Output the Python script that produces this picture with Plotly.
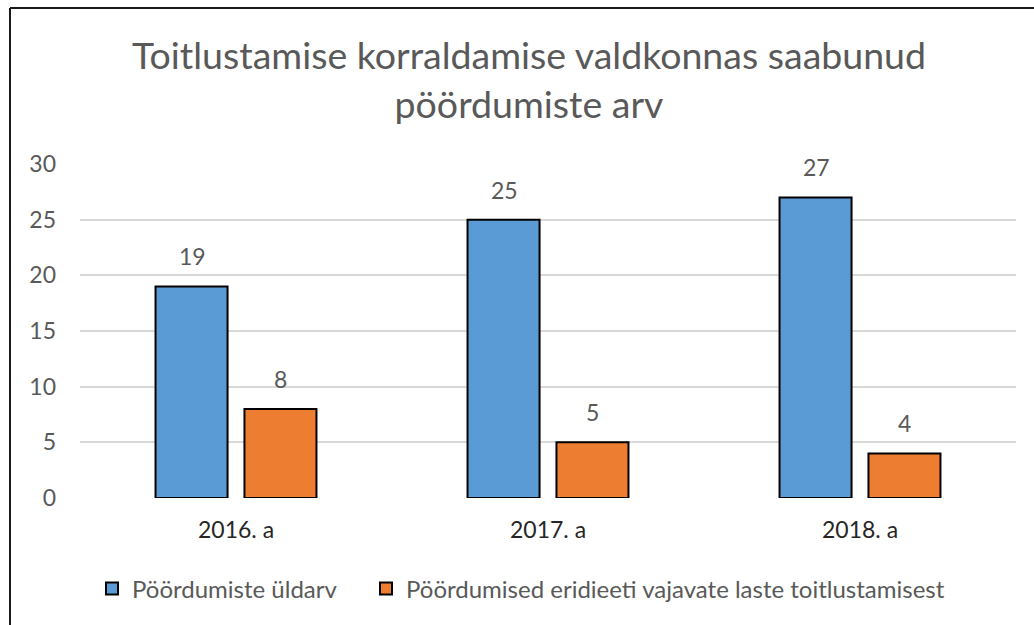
import plotly.graph_objects as go

categories = ["2016. a", "2017. a", "2018. a"]
series_names = ["Pöördumiste üldarv", "Pöördumised eridieeti vajavate laste toitlustamisest"]
total_values = [19, 25, 27]
special_values = [8, 5, 4]
colors = ["#5B9BD5", "#ED7D31"]
title_text = "Toitlustamise korraldamise valdkonnas saabunud<br>pöördumiste arv"

W, H = 1034, 625
ML, MR, MT, MB = 80, 18, 164, 127
pw, ph = W - ML - MR, H - MT - MB

def px_x(px):
    return (px - ML) / pw

def px_y(py):
    return (H - MB - py) / ph

fig = go.Figure()
legend_ids = ["legend", "legend2"]
for name, vals, col, lg in zip(series_names, [total_values, special_values], colors, legend_ids):
    fig.add_trace(go.Bar(
        x=categories, y=vals, name=name, legend=lg,
        marker=dict(color=col, line=dict(color="#000000", width=2)),
    ))

# data labels
offsets = [-44, 44]
for vals, off in zip([total_values, special_values], offsets):
    for c, v in zip(categories, vals):
        fig.add_annotation(x=c, y=v, text=str(v), showarrow=False,
                           xshift=off, yshift=14, yanchor="bottom",
                           font=dict(family="Lato", size=23, color="#595959"))

# title as annotation
fig.add_annotation(text=title_text, xref="paper", yref="paper",
                   x=px_x(529), y=px_y(30), xanchor="center", yanchor="top",
                   showarrow=False, align="center",
                   font=dict(family="Lato", size=37.5, color="#595959"))

legend_style = dict(orientation="h", xanchor="left", yanchor="middle", y=px_y(589),
                    font=dict(family="Lato", size=24, color="#595959"),
                    itemwidth=30, bgcolor="rgba(0,0,0,0)")

fig.update_layout(
    width=W, height=H,
    margin=dict(l=ML, r=MR, t=MT, b=MB),
    paper_bgcolor="white", plot_bgcolor="white",
    barmode="group", bargap=0.43, bargroupgap=0.19,
    font=dict(family="Lato"),
    showlegend=True,
    legend=dict(x=px_x(92), **legend_style),
    legend2=dict(x=px_x(366), **legend_style),
    xaxis=dict(showline=False, ticks="", showgrid=False,
               tickfont=dict(family="Lato", size=23, color="#262626"),
               ticklabelstandoff=16),
    yaxis=dict(range=[0, 30], dtick=5, showgrid=True, gridcolor="#D9D9D9", gridwidth=2,
               zeroline=False, showline=False, ticks="",
               tickfont=dict(family="Lato", size=23, color="#595959"),
               ticklabelstandoff=23),
    shapes=[
        dict(type="line", xref="paper", yref="paper", x0=px_x(10), x1=px_x(10),
             y0=px_y(8), y1=px_y(H + 5), line=dict(color="#1a1a1a", width=2)),
        dict(type="line", xref="paper", yref="paper", x0=px_x(10), x1=px_x(W + 5),
             y0=px_y(8), y1=px_y(8), line=dict(color="#1a1a1a", width=2)),
    ],
)

fig.write_html("out.html", config={"displayModeBar": False},
               post_script="document.body.style.margin='0';document.body.style.overflow='hidden';")
